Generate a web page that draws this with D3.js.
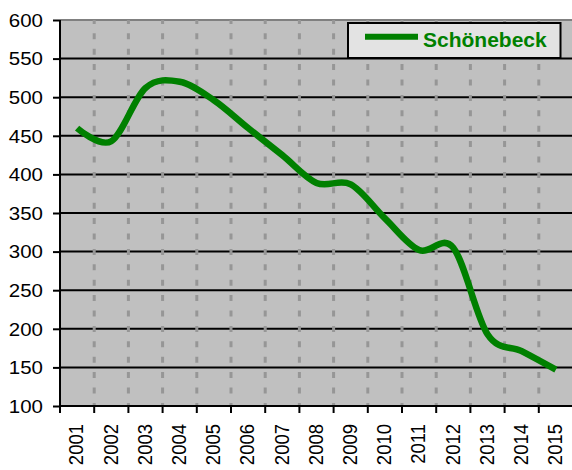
<!DOCTYPE html>
<html>
<head>
<meta charset="utf-8">
<script src="https://cdn.jsdelivr.net/npm/d3@7"></script>
<style>
  html, body { margin: 0; padding: 0; background: #fff; }
  svg { display: block; }
  text { font-family: "Liberation Sans", Arial, sans-serif; }
</style>
</head>
<body>
<svg id="chart" width="572" height="470"></svg>
<script>
const years = ["2001","2002","2003","2004","2005","2006","2007","2008","2009","2010","2011","2012","2013","2014","2015"];
const values = [460, 443, 512, 520, 496, 460, 425, 389, 387, 343, 302, 305, 193, 171, 147];
const yTicks = [100, 150, 200, 250, 300, 350, 400, 450, 500, 550, 600];
const seriesName = "Schönebeck";

(function () {
const svg = d3.select("#chart");
const pL = 60, pR = 573, pT = 20, pB = 406;

const x = d3.scaleBand().domain(years).range([pL, pR]).paddingInner(0).paddingOuter(0);
const y = d3.scaleLinear().domain([100, 600]).range([pB, pT]);

// plot background
svg.append("rect").attr("x", pL).attr("y", pT).attr("width", pR - pL).attr("height", pB - pT)
  .attr("fill", "#c0c0c0");

// horizontal gridlines
svg.append("g").selectAll("line").data(yTicks.filter(v => v > 100 && v < 600)).join("line")
  .attr("x1", pL).attr("x2", pR).attr("y1", d => y(d)).attr("y2", d => y(d))
  .attr("stroke", "#000").attr("stroke-width", 2);

// top border
svg.append("line").attr("x1", pL).attr("x2", pR).attr("y1", y(600)).attr("y2", y(600))
  .attr("stroke", "#808080").attr("stroke-width", 2);

// vertical dashed gridlines at category boundaries
const bounds = years.slice(1).map(yr => x(yr));
svg.append("g").selectAll("line").data(bounds).join("line")
  .attr("x1", d => d).attr("x2", d => d).attr("y1", pT).attr("y2", pB)
  .attr("stroke", "#969696").attr("stroke-width", 3)
  .attr("stroke-dasharray", "6,9.4").attr("stroke-dashoffset", 2.1);

// y axis ticks
const yAxis = svg.append("g").attr("transform", `translate(${pL},0)`)
  .call(d3.axisLeft(y).tickValues(yTicks).tickSize(7).tickFormat(d3.format("d")));
yAxis.select(".domain").remove();
yAxis.selectAll(".tick line").attr("stroke", "#000").attr("stroke-width", 2);
yAxis.selectAll(".tick text").remove();
svg.append("line").attr("x1", pL).attr("x2", pL).attr("y1", pT).attr("y2", pB + 1)
  .attr("stroke", "#000").attr("stroke-width", 2);

svg.append("g").selectAll("text").data(yTicks).join("text")
  .attr("transform", d => `translate(43,${y(d) + 6.8}) scale(1.1,1)`)
  .attr("text-anchor", "end").attr("font-size", 18.6).attr("fill", "#000")
  .text(d => d);

// x axis
svg.append("line").attr("x1", pL).attr("x2", pR).attr("y1", pB).attr("y2", pB)
  .attr("stroke", "#000").attr("stroke-width", 2);
svg.append("g").selectAll("line").data(years.map(yr => x(yr)).concat([x(years[years.length - 1]) + x.bandwidth()])).join("line")
  .attr("x1", d => d).attr("x2", d => d).attr("y1", pB).attr("y2", pB + 7)
  .attr("stroke", "#000").attr("stroke-width", 2);

svg.append("g").selectAll("text").data(years).join("text")
  .attr("transform", d => `translate(${x(d) + x.bandwidth() / 2 + 6.3},424) scale(1.12,1) rotate(-90)`)
  .attr("text-anchor", "end").attr("font-size", 18.5).attr("fill", "#000")
  .text(d => d);

// line
const line = d3.line()
  .x((d, i) => x(years[i]) + x.bandwidth() / 2)
  .y(d => y(d))
  .curve(d3.curveCardinal.tension(0));
svg.append("path").datum(values).attr("d", line)
  .attr("fill", "none").attr("stroke", "#008000").attr("stroke-width", 6.5)
  .attr("stroke-linejoin", "round").attr("stroke-linecap", "butt");

// legend
const lg = svg.append("g");
lg.append("rect").attr("x", 348).attr("y", 23).attr("width", 212.5).attr("height", 35)
  .attr("fill", "#e3e3e3").attr("stroke", "#000").attr("stroke-width", 2);
lg.append("line").attr("x1", 365).attr("x2", 418).attr("y1", 36.7).attr("y2", 36.7)
  .attr("stroke", "#008000").attr("stroke-width", 6);
lg.append("text").attr("x", 423).attr("y", 46.5).attr("font-size", 21).attr("font-weight", "bold")
  .attr("fill", "#008000").text(seriesName);
})();
</script>
</body>
</html>
